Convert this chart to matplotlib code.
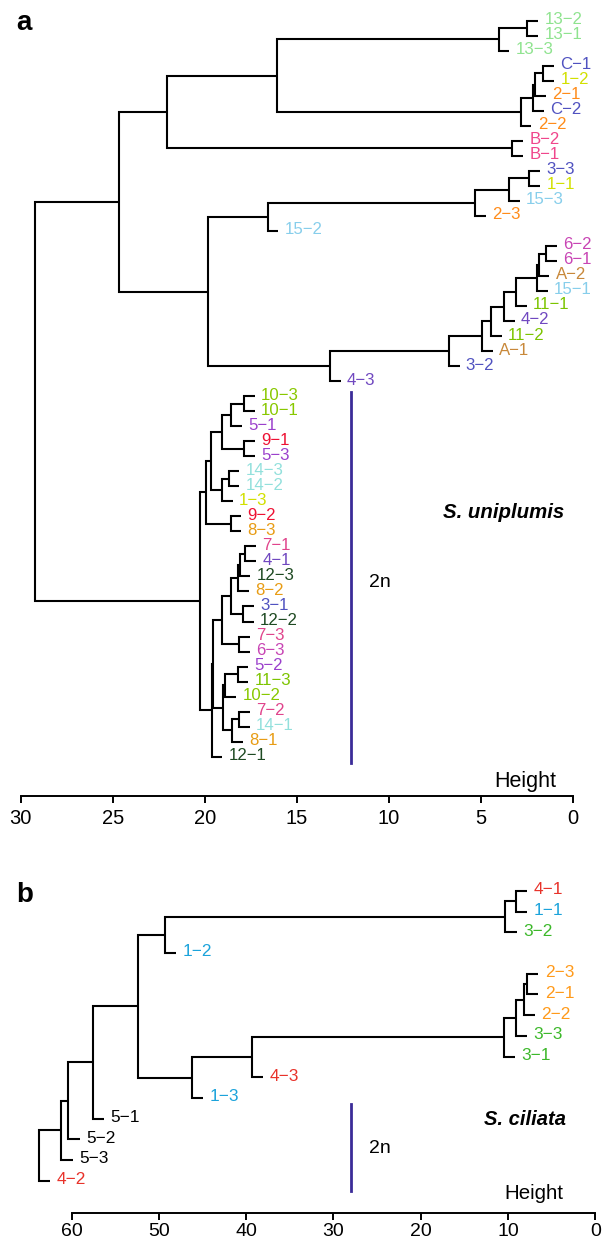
import matplotlib
matplotlib.use("Agg")
import matplotlib.pyplot as plt

plt.rcParams['font.family'] = ['Liberation Sans', 'DejaVu Sans']

# ---- panel a : S. uniplumis (leaves listed top -> bottom)
labels_a = ["13-2", "13-1", "13-3", "C-1", "1-2", "2-1", "C-2", "2-2", "B-2", "B-1",
            "3-3", "1-1", "15-3", "2-3", "15-2", "6-2", "6-1", "A-2", "15-1", "11-1",
            "4-2", "11-2", "A-1", "3-2", "4-3", "10-3", "10-1", "5-1", "9-1", "5-3",
            "14-3", "14-2", "1-3", "9-2", "8-3", "7-1", "4-1", "12-3", "8-2", "3-1",
            "12-2", "7-3", "6-3", "5-2", "11-3", "10-2", "7-2", "14-1", "8-1", "12-1"]
# hclust style merges: negative = leaf (1-based), positive = earlier merge row
merge_a = [(-1, -2), (1, -3), (-4, -5), (3, -6), (4, -7), (5, -8), (2, 6), (-9, -10),
           (7, 8), (-11, -12), (10, -13), (11, -14), (12, -15), (-16, -17), (14, -18),
           (15, -19), (16, -20), (17, -21), (18, -22), (19, -23), (20, -24), (21, -25),
           (13, 22), (9, 23), (-26, -27), (25, -28), (-29, -30), (26, 27), (-31, -32),
           (29, -33), (28, 30), (-34, -35), (31, 32), (-36, -37), (34, -38), (35, -39),
           (-40, -41), (36, 37), (-42, -43), (38, 39), (-44, -45), (41, -46), (-47, -48),
           (43, -49), (42, 44), (40, 45), (46, -50), (33, 47), (24, 48)]
height_a = [2.48, 4.03, 1.61, 2.07, 2.16, 2.84, 16.07, 3.30, 22.03, 2.37,
            3.48, 5.33, 16.59, 1.47, 1.87, 1.96, 3.08, 3.75, 4.46, 4.93,
            6.74, 13.2, 19.84, 24.65, 17.86, 18.57, 17.86, 19.04, 18.70, 19.06,
            19.64, 18.60, 19.91, 17.79, 18.10, 18.19, 17.92, 18.57, 18.15, 19.04,
            18.22, 18.88, 18.15, 18.50, 19.00, 19.56, 19.62, 20.24, 29.21]
colors_a = {"13": "#8fe38f", "C": "#5052c0", "1": "#d2e000", "2": "#ff8c1a",
            "B": "#f0468c", "3": "#5052c0", "15": "#87ceeb", "6": "#c844b4",
            "A": "#c8883a", "11": "#7cc400", "4": "#7048c0", "10": "#88c800",
            "5": "#9b40cc", "9": "#ee1133", "14": "#92e0dc", "8": "#e89c14",
            "7": "#e0448c", "12": "#1e4a22"}

# ---- panel b : S. ciliata
labels_b = ["4-1", "1-1", "3-2", "1-2", "2-3", "2-1", "2-2", "3-3", "3-1", "4-3",
            "1-3", "5-1", "5-2", "5-3", "4-2"]
merge_b = [(-1, -2), (1, -3), (2, -4), (-5, -6), (4, -7), (5, -8), (6, -9), (7, -10),
           (8, -11), (3, 9), (10, -12), (11, -13), (12, -14), (13, -15)]
height_b = [9.14, 10.29, 49.36, 7.81, 8.17, 9.14, 10.46, 39.34, 46.2, 52.4,
            57.6, 60.4, 61.2, 63.75]
colors_b = {"4": "#e8322a", "1": "#1ba3db", "3": "#3cb82a", "2": "#ff9a1a", "5": "black"}

ticks_a = [30, 25, 20, 15, 10, 5, 0]
ticks_b = [60, 50, 40, 30, 20, 10, 0]
line_2n_a = (12.07, 24.7, 49.45)
line_2n_b = (28.0, 10.3, 14.5)

W, H = 604, 1241
fig = plt.figure(figsize=(W / 100, H / 100), dpi=100)


def add_ax(left, right, top, bottom):
    return fig.add_axes([left / W, 1 - bottom / H, (right - left) / W, (bottom - top) / H])


def draw_tree(ax, merge, heights, labels, colors, hang, fs):
    pos = {}
    for k, (a, b) in enumerate(merge, start=1):
        h = heights[k - 1]
        pts = []
        for c in (a, b):
            if c < 0:
                y = -c - 1
                x0 = h - hang
                lab = labels[y]
                ax.annotate(lab.replace("-", "\u2212"), (x0, y), xytext=(4.5, 0.8),
                            textcoords="offset points", ha="left", va="center",
                            fontsize=fs, color=colors[lab.split("-")[0]],
                            annotation_clip=False)
            else:
                y, x0 = pos[c]
            pts.append((x0, y))
        ax.plot([pts[0][0], h, h, pts[1][0]], [pts[0][1], pts[0][1], pts[1][1], pts[1][1]],
                color="black", lw=1.5, solid_joinstyle="miter", solid_capstyle="butt",
                clip_on=False)
        pos[k] = ((pts[0][1] + pts[1][1]) / 2, h)


def style_axis(ax, ticks, lo, hi, pad, size):
    for s in ("top", "right", "left"):
        ax.spines[s].set_visible(False)
    ax.spines["bottom"].set_bounds(lo, hi)
    ax.spines["bottom"].set_linewidth(1.4)
    ax.set_yticks([])
    ax.set_xticks(ticks)
    ax.tick_params(axis="x", direction="out", length=5.2, width=1.4, labelsize=size, pad=pad)
    ax.patch.set_alpha(0)


# panel a  (x: 30 -> 20.7px, 0 -> 573px ; leaf i at 20.7 + 15.02 i px)
ax1 = add_ax(20.7, 573, 10, 796)
ax1.set_xlim(30, 0)
ax1.set_ylim((796 - 20.7) / 15.02, (10 - 20.7) / 15.02)
draw_tree(ax1, merge_a, height_a, labels_a, colors_a, 0.58, 12.1)
style_axis(ax1, ticks_a, 0, 30, 4.0, 14.5)
ax1.plot([line_2n_a[0]] * 2, line_2n_a[1:], color="#3b2c98", lw=2, clip_on=False)
ax1.text(11.07, 37.7, "2n", fontsize=14, va="baseline", ha="left")
ax1.text(7.08, 33.1, "S. uniplumis", fontsize=14.7, fontweight="bold", fontstyle="italic",
         va="baseline", ha="left")
ax1.text(0.89, 51.0, "Height", fontsize=15.5, va="baseline", ha="right")

# panel b  (x: 60 -> 71.7px, 0 -> 595.3px ; leaf i at 891 + 20.69 i px)
ax2 = add_ax(595.3 - 65 * 8.727, 595.3, 860, 1213.3)
ax2.set_xlim(65, 0)
ax2.set_ylim((1213.3 - 891) / 20.69, (860 - 891) / 20.69)
draw_tree(ax2, merge_b, height_b, labels_b, colors_b, 1.3, 12.4)
style_axis(ax2, ticks_b, 0, 60, 1.5, 14)
ax2.plot([line_2n_b[0]] * 2, line_2n_b[1:], color="#3b2c98", lw=2, clip_on=False)
ax2.text(25.9, 12.66, "2n", fontsize=14, va="baseline", ha="left")
ax2.text(12.75, 11.33, "S. ciliata", fontsize=14.5, fontweight="bold", fontstyle="italic",
         va="baseline", ha="left")
ax2.text(3.67, 14.9, "Height", fontsize=14.8, va="baseline", ha="right")

fig.text(16 / W, 1 - 30 / H, "a", fontsize=20, fontweight="bold", va="baseline")
fig.text(16 / W, 1 - 902 / H, "b", fontsize=20, fontweight="bold", va="baseline")

fig.savefig("out.png", dpi=100)
